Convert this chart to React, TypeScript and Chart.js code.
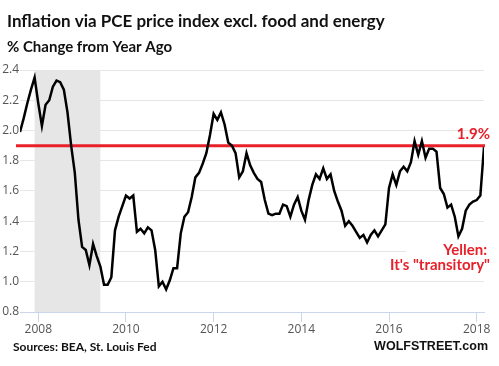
import React, { useEffect, useRef } from "react";
import { Chart, registerables } from "chart.js";

Chart.register(...registerables);

// ---- text ----
const TITLE = "Inflation via PCE price index excl. food and energy";
const SUBTITLE = "% Change from Year Ago";
const SOURCE = "Sources: BEA, St. Louis Fed";
const BRAND = "WOLFSTREET.com";
const TARGET_LABEL = "1.9%";
const NOTE_LINES = ["Yellen:", "It's \"transitory\""];

// ---- data: core PCE, % change from year ago, monthly from Aug 2007 ----
const START_YEAR = 2007;
const START_MONTH = 8;
const v2007 = [1.99, 2.08, 2.18, 2.27, 2.35];
const v2008 = [2.18, 2.03, 2.17, 2.2, 2.29, 2.33, 2.32, 2.27, 2.12, 1.9, 1.72, 1.41];
const v2009 = [1.23, 1.21, 1.11, 1.25, 1.17, 1.1, 0.98, 0.98, 1.03, 1.34, 1.43, 1.5];
const v2010 = [1.57, 1.55, 1.57, 1.33, 1.35, 1.32, 1.36, 1.34, 1.21, 0.97, 1.0, 0.95];
const v2011 = [1.01, 1.09, 1.09, 1.32, 1.43, 1.46, 1.56, 1.69, 1.72, 1.78, 1.85, 1.97];
const v2012 = [2.11, 2.07, 2.12, 2.04, 1.92, 1.9, 1.85, 1.69, 1.73, 1.85, 1.77, 1.72];
const v2013 = [1.68, 1.66, 1.54, 1.45, 1.44, 1.45, 1.45, 1.51, 1.5, 1.43, 1.51, 1.56];
const v2014 = [1.47, 1.41, 1.54, 1.64, 1.71, 1.68, 1.75, 1.68, 1.71, 1.6, 1.53, 1.47];
const v2015 = [1.37, 1.4, 1.37, 1.33, 1.29, 1.31, 1.26, 1.31, 1.34, 1.3, 1.34, 1.38];
const v2016 = [1.62, 1.71, 1.64, 1.73, 1.76, 1.73, 1.79, 1.93, 1.84, 1.93, 1.82, 1.88];
const v2017 = [1.88, 1.86, 1.62, 1.58, 1.49, 1.51, 1.43, 1.3, 1.35, 1.47, 1.51, 1.53];
const v2018 = [1.54, 1.57, 1.89];

const TARGET = 1.9;
const RECESSION_START = 2007 + 11 / 12; // Dec 2007
const RECESSION_END = 2009 + 5 / 12; // Jun 2009
const X_TICKS = [2008, 2010, 2012, 2014, 2016, 2018];
const Y_MIN = 0.8;
const Y_MAX = 2.4;
const Y_STEP = 0.2;

const allValues = [
  ...v2007, ...v2008, ...v2009, ...v2010, ...v2011, ...v2012,
  ...v2013, ...v2014, ...v2015, ...v2016, ...v2017, ...v2018,
];
const points = allValues.map((y, i) => ({
  x: START_YEAR + (START_MONTH - 1 + i) / 12,
  y,
}));

const RED = "#e8202a";
const TICK_FONT = { family: "'Open Sans', sans-serif", size: 12 };
const HEAD_FONT = "Lato, 'Open Sans', sans-serif";

const overlayPlugin = {
  id: "overlay",
  beforeDraw(chart: any) {
    const { ctx, chartArea, scales } = chart;
    const x0 = scales.x.getPixelForValue(RECESSION_START);
    const x1 = scales.x.getPixelForValue(RECESSION_END);
    ctx.save();
    ctx.fillStyle = "#e6e6e6";
    ctx.fillRect(x0, chartArea.top, x1 - x0, chartArea.bottom - chartArea.top);
    ctx.restore();
  },
  beforeDatasetsDraw(chart: any) {
    const { ctx, chartArea, scales } = chart;
    const y = scales.y.getPixelForValue(TARGET);
    ctx.save();
    ctx.strokeStyle = RED;
    ctx.lineWidth = 3;
    ctx.beginPath();
    ctx.moveTo(chartArea.left - 4, y);
    ctx.lineTo(chartArea.right + 1, y);
    ctx.stroke();
    ctx.restore();
  },
  afterDatasetsDraw(chart: any) {
    const { ctx, chartArea, scales } = chart;
    ctx.save();
    // titles
    ctx.fillStyle = "#111";
    ctx.textBaseline = "alphabetic";
    ctx.textAlign = "left";
    ctx.font = `bold 17px ${HEAD_FONT}`;
    ctx.fillText(TITLE, 7, 27);
    ctx.font = `bold 15px ${HEAD_FONT}`;
    ctx.fillText(SUBTITLE, 7, 52);

    // target label
    const yT = scales.y.getPixelForValue(TARGET);
    ctx.fillStyle = RED;
    ctx.textAlign = "right";
    ctx.textBaseline = "middle";
    ctx.font = `bold 15px ${HEAD_FONT}`;
    ctx.fillText(TARGET_LABEL, chartArea.right + 6, yT - 11);

    // annotation
    const yNote = scales.y.getPixelForValue(1.2);
    ctx.fillStyle = "#ffffff";
    ctx.fillRect(406, yNote - 11, 499 - 406, 34);
    ctx.fillStyle = RED;
    ctx.fillText(NOTE_LINES[0], chartArea.right + 3, yNote - 1);
    ctx.fillText(NOTE_LINES[1], chartArea.right + 6, yNote + 14);

    // footer
    ctx.fillStyle = "#111";
    ctx.textAlign = "left";
    ctx.font = `bold 12px ${HEAD_FONT}`;
    ctx.fillText(SOURCE, 13, 347);
    ctx.textAlign = "right";
    ctx.font = "bold 12.5px 'Liberation Sans', Arial, sans-serif";
    ctx.fillText(BRAND, 488, 347);
    ctx.restore();
  },
};

export default function App() {
  const ref = useRef<HTMLCanvasElement | null>(null);

  useEffect(() => {
    document.body.style.margin = "0";
    const canvas = ref.current;
    if (!canvas) return;
    const chart = new Chart(canvas, {
      type: "line",
      data: {
        datasets: [
          {
            data: points,
            borderColor: "#000000",
            borderWidth: 2.5,
            pointRadius: 0,
            tension: 0,
            fill: false,
          },
        ],
      },
      options: {
        animation: false,
        responsive: false,
        devicePixelRatio: 1,
        parsing: false as any,
        layout: { padding: { top: 70, left: 0, right: 15, bottom: 30 } },
        plugins: {
          legend: { display: false },
          tooltip: { enabled: false },
          title: { display: false },
        },
        scales: {
          x: {
            type: "linear",
            min: points[0].x,
            max: points[points.length - 1].x,
            afterBuildTicks: (scale: any) => {
              scale.ticks = X_TICKS.map((v) => ({ value: v }));
            },
            afterFit: (scale: any) => {
              scale.height = 24;
            },
            grid: {
              display: true,
              drawOnChartArea: false,
              drawTicks: true,
              tickLength: 10,
              color: "#ccd6eb",
            },
            border: { display: true, color: "#ccd6eb", width: 1 },
            ticks: {
              color: "#555",
              font: TICK_FONT,
              padding: 0,
              maxRotation: 0,
              autoSkip: false,
              callback: (v: any) => String(v),
            },
          },
          y: {
            min: Y_MIN,
            max: Y_MAX,
            afterFit: (scale: any) => {
              scale.width = 20;
            },
            grid: { color: "#e6e6e6", drawTicks: false, lineWidth: 1 },
            border: { display: false },
            ticks: {
              stepSize: Y_STEP,
              color: "#555",
              font: TICK_FONT,
              padding: 1,
              callback: (v: any) => Number(v).toFixed(1),
            },
          },
        },
      },
      plugins: [overlayPlugin],
    });
    return () => chart.destroy();
  }, []);

  return (
    <div style={{ position: "absolute", left: 0, top: 0, width: 499, height: 366 }}>
      <canvas ref={ref} width={499} height={366} />
    </div>
  );
}
